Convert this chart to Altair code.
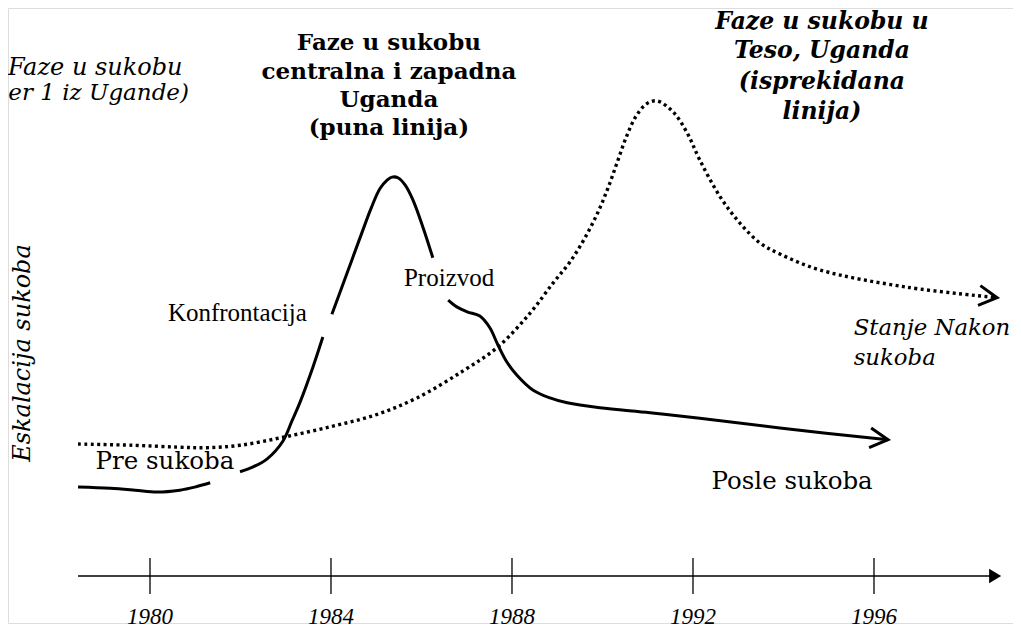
import altair as alt
import pandas as pd

# ---- data (years on x, conflict escalation 0-100 on y) ----
tick_years = [1980, 1984, 1988, 1992, 1996]
tick_labels = ["1980", "1984", "1988", "1992", "1996"]

# solid line: central & western Uganda (split where labels interrupt it)
solid_year = [1978.41, 1979.12, 1979.67, 1980.15, 1980.66, 1980.99, 1981.33,
              1981.99, 1982.28, 1982.59, 1982.94, 1983.14, 1983.31, 1983.60, 1983.82,
              1984.02, 1984.24, 1984.46, 1984.69, 1984.89, 1985.08, 1985.24, 1985.35, 1985.48,
              1985.64, 1985.81, 1986.03, 1986.25,
              1986.59, 1986.78, 1987.01, 1987.29, 1987.51, 1987.69, 1987.89, 1988.11, 1988.46,
              1988.84, 1989.22, 1989.94, 1991.05, 1992.15, 1993.92, 1996.31]
solid_val = [22.1, 21.9, 21.6, 21.3, 21.6, 22.1, 22.8,
             24.6, 25.4, 26.7, 29.6, 32.9, 35.8, 41.6, 46.5,
             50.2, 54.6, 59.0, 63.6, 67.5, 70.6, 72.0, 72.5, 72.4,
             71.2, 68.8, 64.4, 59.4,
             52.5, 51.4, 50.6, 49.9, 48.0, 45.2, 42.4, 40.3, 37.9,
             36.6, 35.8, 35.0, 34.2, 33.3, 31.7, 29.8]
solid_seg = [1] * 7 + [2] * 8 + [3] * 13 + [4] * 16

# dotted line: Teso, Uganda
dot_year = [1978.41, 1979.62, 1980.60, 1981.26, 1981.99, 1982.94, 1983.98, 1984.97, 1985.90,
            1986.92, 1987.69, 1988.40, 1988.91, 1989.28, 1989.61, 1989.90, 1990.12, 1990.32,
            1990.52, 1990.74, 1990.97, 1991.20, 1991.56, 1991.87, 1992.15, 1992.60, 1993.04,
            1993.48, 1993.92, 1994.81, 1996.73, 1998.72]
dot_val = [29.1, 28.9, 28.6, 28.5, 28.9, 30.2, 31.9, 33.8, 36.6,
           41.0, 44.9, 50.4, 55.3, 58.7, 62.6, 66.8, 70.7, 74.8,
           78.9, 82.4, 84.4, 84.9, 83.1, 79.7, 75.3, 69.3, 65.0,
           61.8, 60.0, 57.4, 54.6, 52.9]

x_domain = [1976.862, 1999.072]
y_domain = [0, 100]

axis_level = 7.64
axis_start = 1978.41
axis_end = 1998.6
axis_tip = 1998.81
tick_lo = 4.72
tick_hi = 10.57
label_level = 1.0

X = lambda f: alt.X(f, type="quantitative", scale=alt.Scale(domain=x_domain), axis=None)
Y = lambda f: alt.Y(f, type="quantitative", scale=alt.Scale(domain=y_domain), axis=None)

solid_df = pd.DataFrame({"year": solid_year, "v": solid_val, "seg": solid_seg})
dot_df = pd.DataFrame({"year": dot_year, "v": dot_val})

solid = alt.Chart(solid_df).mark_line(interpolate="catmull-rom", strokeWidth=3, color="black").encode(
    x=X("year"), y=Y("v"), detail="seg:N")
dotted = alt.Chart(dot_df).mark_line(interpolate="catmull-rom", strokeWidth=3.4, color="black",
                                     strokeDash=[3, 3.4], strokeCap="butt").encode(
    x=X("year"), y=Y("v"))

chev = "M-1,-0.55L0,0L-1,0.55"
solid_arrow = alt.Chart(pd.DataFrame({"year": [solid_year[-1]], "v": [solid_val[-1]]})).mark_point(
    shape=chev, size=1296, filled=False, strokeWidth=3, color="black", opacity=1, angle=6).encode(
    x=X("year"), y=Y("v"))
dot_arrow = alt.Chart(pd.DataFrame({"year": [dot_year[-1]], "v": [dot_val[-1]]})).mark_point(
    shape=chev, size=1296, filled=False, strokeWidth=3, color="black", opacity=1, angle=7).encode(
    x=X("year"), y=Y("v"))

axis_df = pd.DataFrame({"x": [axis_start], "x2": [axis_end], "y": [axis_level]})
axis_line = alt.Chart(axis_df).mark_rule(strokeWidth=1.5, color="black").encode(
    x=X("x"), x2="x2:Q", y=Y("y"))
axis_arrow = alt.Chart(pd.DataFrame({"x": [axis_tip], "y": [axis_level]})).mark_point(
    shape="M-1,-0.6L0,0L-1,0.6Z", size=576, filled=True, color="black", opacity=1).encode(
    x=X("x"), y=Y("y"))

ticks_df = pd.DataFrame({"year": tick_years, "lo": [tick_lo] * 5, "hi": [tick_hi] * 5,
                         "lab": tick_labels, "ly": [label_level] * 5})
ticks = alt.Chart(ticks_df).mark_rule(strokeWidth=1.3, color="black").encode(
    x=X("year"), y=Y("lo"), y2="hi:Q")
tick_text = alt.Chart(ticks_df).mark_text(font="Liberation Serif", fontStyle="italic", fontSize=23,
                                          baseline="middle", align="center", color="black").encode(
    x=X("year"), y=Y("ly"), text="lab:N")

def txt(texts, xs, ys, **kw):
    df = pd.DataFrame({"t": texts, "x": xs, "y": ys})
    return alt.Chart(df).mark_text(baseline="middle", color="black", **kw).encode(
        x=X("x"), y=Y("y"), text="t:N")

bookman = "DejaVu Serif"
times = "Liberation Serif"

t_left1 = txt(["Faze u sukobu"], [1980.72], [90.24],
              font=bookman, fontStyle="italic", fontSize=24, align="right")
t_left2 = txt(["er 1 iz Ugande)"], [1976.87], [86.18],
              font=bookman, fontStyle="italic", fontSize=23, align="left")
t_mid = txt(["Faze u sukobu", "centralna i zapadna", "Uganda", "(puna linija)"],
            [1985.28] * 4, [94.31, 89.59, 85.04, 80.49],
            font=bookman, fontWeight="bold", fontSize=23, align="center")
t_right = txt(["Faze u sukobu u", "Teso, Uganda", "(isprekidana", "linija)"],
              [1994.85] * 4, [97.75, 92.95, 87.9, 83.09],
              font=bookman, fontWeight="bold", fontStyle="italic", fontSize=23.5, align="center")
t_yaxis = txt(["Eskalacija sukoba"], [1977.2], [43.9],
              font=bookman, fontStyle="italic", fontSize=24, align="center", angle=270)
t_times = txt(["Konfrontacija", "Proizvod"], [1981.93, 1986.61], [50.4, 56.1],
              font=times, fontSize=25, align="center")
t_book = txt(["Pre sukoba", "Posle sukoba"], [1980.33, 1994.19], [26.2, 22.9],
             font=bookman, fontSize=24.5, align="center")
t_after = txt(["Stanje Nakon", "sukoba"], [1995.55, 1995.55], [47.97, 43.09],
              font=bookman, fontStyle="italic", fontSize=22.8, align="left")

chart = alt.layer(
    axis_line, axis_arrow, ticks, tick_text,
    dotted, dot_arrow, solid, solid_arrow,
    t_left1, t_left2, t_mid, t_right, t_yaxis, t_times, t_book, t_after,
).properties(
    width=1005, height=615,
    padding={"left": 0, "top": 0, "right": 0, "bottom": 8},
    autosize=alt.AutoSizeParams(type="none"),
).configure_view(strokeWidth=0, strokeOpacity=0).configure(background="white")

chart.save("out.html", embed_options={"renderer": "svg", "actions": False})
